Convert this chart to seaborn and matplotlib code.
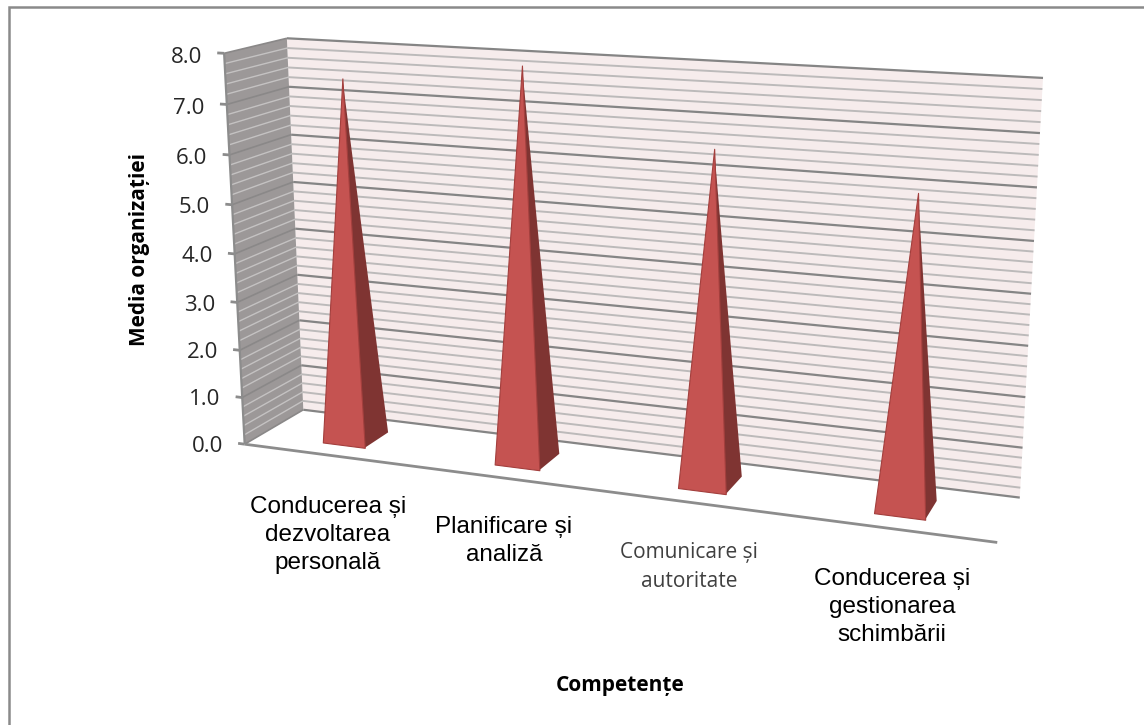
import numpy as np
import matplotlib
matplotlib.use("Agg")
import matplotlib.pyplot as plt
import seaborn as sns
from matplotlib.lines import Line2D
from mpl_toolkits.mplot3d import proj3d
from mpl_toolkits.mplot3d.art3d import Line3DCollection, Poly3DCollection

# ---- data -------------------------------------------------------------
categories = ["Conducerea și\ndezvoltarea\npersonală",
              "Planificare și\nanaliză",
              "Comunicare și\nautoritate",
              "Conducerea și\ngestionarea\nschimbării"]
values = [7.45, 7.9, 6.55, 6.0]
major_ticks = [0, 1, 2, 3, 4, 5, 6, 7, 8]
tick_labels = ["0.0", "1.0", "2.0", "3.0", "4.0", "5.0", "6.0", "7.0", "8.0"]
minor_step = 0.2
x_title = "Competențe"
y_title = "Media organizației"

# ---- layout -----------------------------------------------------------
W, H = 1144, 725
HALF_W = 0.125
D0, D1 = 0.27, 0.70
XMAX, ZMAX = len(categories), major_ticks[-1]
# world (category, depth, value) -> pixel anchors of the chart's box
anchors = [((0, 0, 0), (245, 444)), ((XMAX, 0, 0), (997, 543)),
           ((0, 1, 0), (303, 410)), ((XMAX, 1, 0), (1020, 497)),
           ((0, 1, ZMAX), (287, 38.5)), ((XMAX, 1, ZMAX), (1043, 78)),
           ((0, 0, ZMAX), (224, 53))]


def camera(pairs):
    A = []
    for (x, y, z), (u, v) in pairs:
        A.append([x, y, z, 1, 0, 0, 0, 0, -u*x, -u*y, -u*z, -u])
        A.append([0, 0, 0, 0, x, y, z, 1, -v*x, -v*y, -v*z, -v])
    P = np.linalg.svd(np.array(A, float))[2][-1].reshape(3, 4)
    null = np.linalg.svd(P)[2][-1]
    return np.array([P[0], P[1], null, P[2]])


sns.set_theme(style="white")
plt.rcParams["font.family"] = ["Liberation Sans", "DejaVu Sans"]

fig = plt.figure(figsize=(W / 100, H / 100), dpi=100, facecolor="white")
fig.add_artist(Line2D([9 / W, 9 / W, 1], [0, 1 - 7 / H, 1 - 7 / H],
                      transform=fig.transFigure, color="#8a8a8a", lw=1.8,
                      solid_joinstyle="miter"))

ax = fig.add_axes([0, 0, 1, 1], projection="3d")
ax.set_axis_off()
ax.patch.set_alpha(0)
ax.computed_zorder = False
M = camera(anchors)
ax.get_proj = lambda: M
ax.apply_aspect = lambda position=None: None
ax.viewLim.intervalx = (0, W)
ax.viewLim.intervaly = (H, 0)


def poly(verts, fc, ec="none", lw=0, z=1):
    c = Poly3DCollection([verts], facecolors=fc, edgecolors=ec, linewidths=lw,
                         shade=False, zorder=z)
    ax.add_collection3d(c)


def lines(segs, color, lw, z=2):
    c = Line3DCollection(segs, colors=color, linewidths=lw, zorder=z,
                         capstyle="butt")
    ax.add_collection3d(c)


# walls
poly([(0, 1, 0), (XMAX, 1, 0), (XMAX, 1, ZMAX), (0, 1, ZMAX)], "#f6ecec")
poly([(0, 0, 0), (0, 1, 0), (0, 1, ZMAX), (0, 0, ZMAX)], "#9c9898")

# gridlines
n_minor = int(round(ZMAX / minor_step))
per_major = int(round(1 / minor_step))
minor_vals = [k * minor_step for k in range(n_minor + 1) if k % per_major]
lines([[(0, 1, v), (XMAX, 1, v)] for v in minor_vals], "#bcbaba", 1.4)
lines([[(0, 0, v), (0, 1, v)] for v in minor_vals], "#c4c2c2", 1.0)
lines([[(0, 1, v), (XMAX, 1, v)] for v in major_ticks], "#858585", 1.6, z=3)
lines([[(0, 0, v), (0, 1, v)] for v in major_ticks], "#8a8888", 1.2, z=3)

# axis lines and ticks
lines([[(0, 0, 0), (0, 0, ZMAX)]], "#8c8c8c", 1.6, z=3)
lines([[(0, 0, 0), (XMAX, 0, 0)]], "#8c8c8c", 2.0, z=3)
lines([[(-0.04, 0, v), (0, 0, v)] for v in major_ticks], "#8c8c8c", 2.0, z=3)
for v, s in zip(major_ticks, tick_labels):
    px, py, _ = proj3d.proj_transform(-0.13, 0, v, M)
    ax.text2D(px, py + 5, s, transform=ax.transData, ha="right", va="center",
              fontsize=16, family=["Open Sans"], color="#262626", zorder=6)

# pyramids
for i, val in enumerate(values):
    c = i + 0.5
    fl, fr = (c - HALF_W, D0, 0), (c + HALF_W, D0, 0)
    br = (c + HALF_W, D1, 0)
    apex = (c, (D0 + D1) / 2, val)
    poly([fr, br, apex], "#7f3432", z=4 + i * 0.01)
    poly([fl, fr, apex], "#c55351", ec="#a33f3d", lw=0.8, z=5 + i * 0.01)

# category labels
label_pos = [(328, 535), (504, 541), (689, 567), (892, 607)]
for name, (px, py) in zip(categories, label_pos):
    if name.startswith("Comunicare"):
        fig.text(px / W, 1 - py / H, name, ha="center", va="center",
                 fontsize=15, family=["Open Sans"], color="#404040",
                 linespacing=1.53)
    else:
        fig.text(px / W, 1 - py / H, name, ha="center", va="center",
                 fontsize=17.5, color="black", linespacing=1.35)

fig.text(620 / W, 1 - 686 / H, x_title, ha="center", va="center",
         fontsize=15, fontweight="bold", family=["Open Sans"], color="black")
fig.text(139 / W, 1 - 249 / H, y_title, ha="center", va="center", rotation=90,
         fontsize=15, fontweight="bold", family=["Open Sans"], color="black")

fig.savefig("out.png", dpi=100)
